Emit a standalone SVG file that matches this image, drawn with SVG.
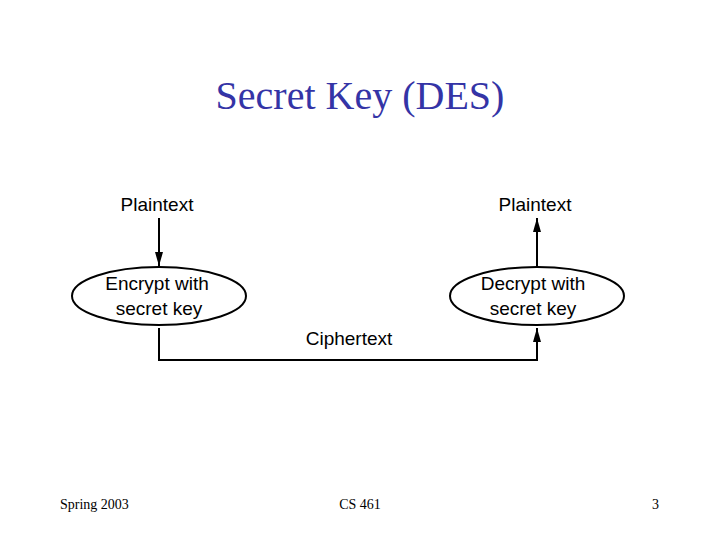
<svg xmlns="http://www.w3.org/2000/svg" width="720" height="540" viewBox="0 0 720 540">
<style>
.t{font-family:"Liberation Sans",Arial,sans-serif;font-size:19px;fill:#000;text-anchor:middle}
.f{font-family:"Liberation Serif","Times New Roman",serif;font-size:14px;fill:#000}
.e{fill:#fff;stroke:#000;stroke-width:2}
.c{fill:none;stroke:#000;stroke-width:2}
</style>
<defs>
<marker id="ah2" viewBox="0 0 14 8" refX="14" refY="4" markerWidth="14" markerHeight="8" markerUnits="userSpaceOnUse" orient="auto"><path d="M0,0 L14,4 L0,8 Z" fill="#000"/></marker>
</defs>
<rect width="720" height="540" fill="#fff"/>
<text x="360" y="109" text-anchor="middle" font-family="'Liberation Serif','Times New Roman',serif" font-size="40" fill="#3434a6">Secret Key (DES)</text>
<g id="connectors">
<path class="c" d="M159,218 V266" marker-end="url(#ah2)"/>
<path class="c" d="M537,266 V218" marker-end="url(#ah2)"/>
<path class="c" d="M159,328 V360 H537 V328" marker-end="url(#ah2)"/>
</g>
<g id="plain1"><text class="t" x="157" y="211">Plaintext</text></g>
<g id="plain2"><text class="t" x="535" y="211">Plaintext</text></g>
<g id="encrypt">
<ellipse class="e" cx="159" cy="296" rx="87" ry="29"/>
<text class="t" x="157" y="290">Encrypt with</text>
<text class="t" x="159" y="315">secret key</text>
</g>
<g id="decrypt">
<ellipse class="e" cx="537" cy="296" rx="87" ry="29"/>
<text class="t" x="533" y="290">Decrypt with</text>
<text class="t" x="533" y="315">secret key</text>
</g>
<g id="cipher"><text class="t" x="349" y="345">Ciphertext</text></g>
<text class="f" x="60" y="509">Spring 2003</text>
<text class="f" x="360" y="509" text-anchor="middle">CS 461</text>
<text class="f" x="659" y="509" text-anchor="end">3</text>
</svg>
